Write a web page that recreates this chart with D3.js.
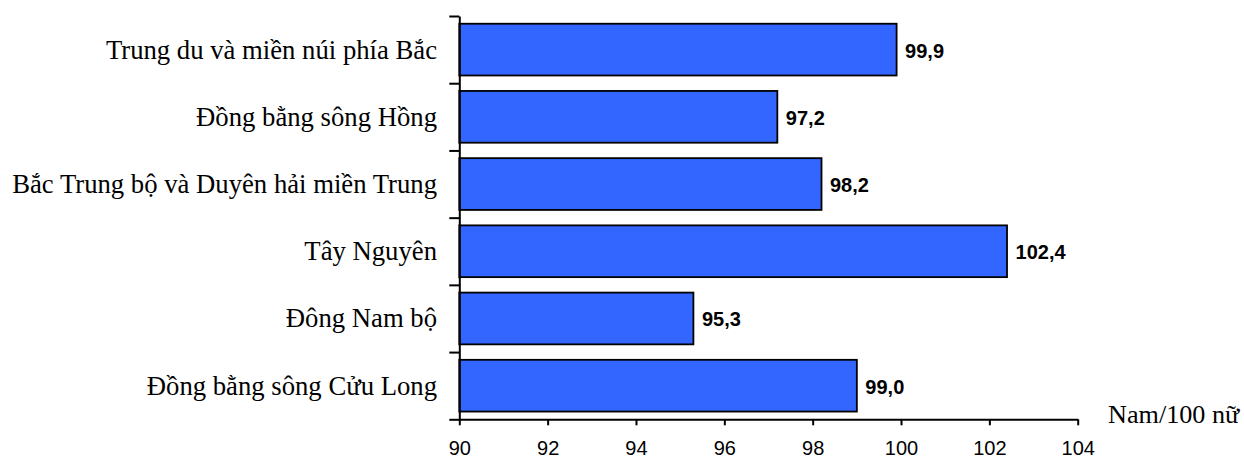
<!DOCTYPE html>
<html><head><meta charset="utf-8">
<script src="https://cdn.jsdelivr.net/npm/d3@7"></script>
<style>body{margin:0;background:#fff}svg{display:block}</style>
</head><body>
<script>
const categories = ["Trung du và miền núi phía Bắc","Đồng bằng sông Hồng","Bắc Trung bộ và Duyên hải miền Trung","Tây Nguyên","Đông Nam bộ","Đồng bằng sông Cửu Long"];
const values = [99.9, 97.2, 98.2, 102.4, 95.3, 99.0];
const xTicks = [90, 92, 94, 96, 98, 100, 102, 104];
const unitLabel = "Nam/100 nữ";

const W = 1244, H = 457;
const plotLeft = 459.3, plotRight = 1077.7, plotTop = 16, plotBottom = 419.3;
const svg = d3.select("body").append("svg").attr("width", W).attr("height", H);

const x = d3.scaleLinear().domain([90, 104]).range([plotLeft, plotRight]);
const y = d3.scaleBand().domain(categories).range([plotTop, plotBottom]).paddingInner(0.23).paddingOuter(0.115);
const yEdge = d3.scaleLinear().domain([0, categories.length]).range([plotTop, plotBottom]);

// bars
svg.append("g").selectAll("rect").data(values).join("rect")
  .attr("x", x(90))
  .attr("y", (d,i) => y(categories[i]))
  .attr("width", d => x(d) - x(90))
  .attr("height", y.bandwidth())
  .attr("fill", "#3366FF")
  .attr("stroke", "#000")
  .attr("stroke-width", 1.8);

// value labels
const fmt = d => d.toFixed(1).replace(".", ",");
svg.append("g").selectAll("text").data(values).join("text")
  .attr("x", d => x(d) + 8.5)
  .attr("y", (d,i) => y(categories[i]) + y.bandwidth()/2 + 8)
  .attr("font-family", "Liberation Sans, Arial, sans-serif")
  .attr("font-size", 20)
  .attr("font-weight", "bold")
  .attr("fill", "#000")
  .text(fmt);

// y axis (ticks at category boundaries)
const yAxis = svg.append("g").attr("transform", `translate(${plotLeft},0)`)
  .call(d3.axisLeft(yEdge).ticks(categories.length).tickSize(10).tickSizeOuter(0).tickFormat(""));
yAxis.selectAll("path,line").attr("stroke", "#000").attr("stroke-width", 2);

// category labels
svg.append("g").selectAll("text").data(categories).join("text")
  .attr("x", 437)
  .attr("y", d => y(d) + y.bandwidth()/2 + 9)
  .attr("text-anchor", "end")
  .attr("font-family", "Liberation Serif, Times New Roman, serif")
  .attr("font-size", 26.7)
  .attr("fill", "#000")
  .text(d => d);

// x axis
const xAxis = svg.append("g").attr("transform", `translate(0,${plotBottom})`)
  .call(d3.axisBottom(x).tickValues(xTicks).tickSize(6).tickSizeOuter(0).tickFormat(d3.format("d")));
xAxis.selectAll("path,line").attr("stroke", "#000").attr("stroke-width", 2);
xAxis.selectAll("text")
  .attr("y", 36).attr("dy", null)
  .attr("font-family", "Liberation Sans, Arial, sans-serif")
  .attr("font-size", 20)
  .attr("fill", "#000");

// unit label
svg.append("text")
  .attr("x", 1108).attr("y", 422.5)
  .attr("font-family", "Liberation Serif, Times New Roman, serif")
  .attr("font-size", 26.2)
  .attr("fill", "#000")
  .text(unitLabel);
</script>
</body></html>
